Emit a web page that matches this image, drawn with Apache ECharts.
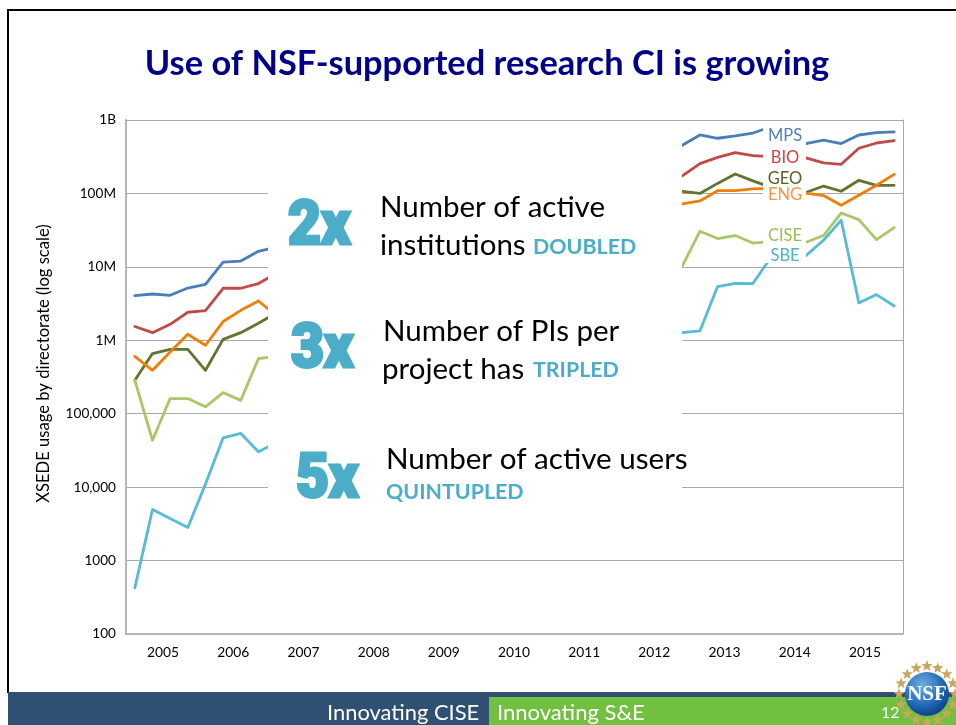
<!DOCTYPE html>
<html><head><meta charset="utf-8">
<style>html,body{margin:0;padding:0;background:#fff}#c{width:956px;height:725px}</style>
<script src="https://cdn.jsdelivr.net/npm/echarts@6/dist/echarts.min.js"></script>
</head><body><div id="c"></div>
<script>
const _ = null;
const years = ['2005','2006','2007','2008','2009','2010','2011','2012','2013','2014','2015'];
const quarters = ['05Q1','05Q2','05Q3','05Q4','06Q1','06Q2','06Q3','06Q4','07Q1','07Q2','07Q3','07Q4','08Q1','08Q2','08Q3','08Q4','09Q1','09Q2','09Q3','09Q4','10Q1','10Q2','10Q3','10Q4','11Q1','11Q2','11Q3','11Q4','12Q1','12Q2','12Q3','12Q4','13Q1','13Q2','13Q3','13Q4','14Q1','14Q2','14Q3','14Q4','15Q1','15Q2','15Q3','15Q4'];
const tickLabels = {100:'100',1000:'1000',10000:'10,000',100000:'100,000',1000000:'1M',10000000:'10M',100000000:'100M',1000000000:'1B'};
const MPS  = [4.06e6,4.27e6,4.10e6,5.15e6,5.79e6,11.6e6,12.0e6,16.3e6,18.5e6,_,_,_,_,_,_,_,_,_,_,_,_,_,_,_,_,_,_,_,_,_,_,453e6,625e6,564e6,606e6,665e6,804e6,_,477e6,530e6,477e6,625e6,674e6,687e6];
const BIO  = [1.54e6,1.27e6,1.65e6,2.41e6,2.54e6,5.11e6,5.11e6,5.92e6,8.1e6,_,_,_,_,_,_,_,_,_,_,_,_,_,_,_,_,_,_,_,_,_,_,173e6,255e6,310e6,360e6,327e6,318e6,_,304e6,260e6,249e6,412e6,486e6,524e6];
const GEO  = [0.285e6,0.659e6,0.754e6,0.754e6,0.39e6,1.03e6,1.27e6,1.71e6,2.35e6,_,_,_,_,_,_,_,_,_,_,_,_,_,_,_,_,_,_,_,_,_,_,107e6,100e6,137e6,184e6,148e6,122e6,_,103e6,126e6,107e6,151e6,129e6,129e6];
const ENG  = [0.605e6,0.39e6,0.693e6,1.21e6,0.855e6,1.80e6,2.56e6,3.43e6,2.19e6,_,_,_,_,_,_,_,_,_,_,_,_,_,_,_,_,_,_,_,_,_,_,71.8e6,78.9e6,109e6,109e6,115e6,117e6,_,101e6,93.5e6,68.9e6,94.4e6,129e6,182e6];
const CISE = [0.285e6,0.0435e6,0.161e6,0.161e6,0.124e6,0.194e6,0.152e6,0.563e6,0.605e6,_,_,_,_,_,_,_,_,_,_,_,_,_,_,_,_,_,_,_,_,_,_,10.2e6,30.5e6,24.3e6,26.7e6,21.1e6,22.3e6,_,21.6e6,26.7e6,54.2e6,44.0e6,23.5e6,34.3e6];
const SBE  = [425,4970,3750,2825,11000,46900,53900,30300,40100,_,_,_,_,_,_,_,_,_,_,_,_,_,_,_,_,_,_,_,_,_,_,1.27e6,1.34e6,5.39e6,5.97e6,5.92e6,13.2e6,_,14.2e6,23.0e6,43.1e6,3.22e6,4.19e6,2.93e6];

const seriesDefs = [
  ['MPS',MPS,'#4a7ebb','#4f81bd',136],
  ['BIO',BIO,'#be4b48','#d43f3f',158],
  ['GEO',GEO,'#5f7530','#4f6228',179],
  ['ENG',ENG,'#f07f09','#f79646',195],
  ['CISE',CISE,'#a9c766','#9bbb59',236],
  ['SBE',SBE,'#56bcd6','#4bb5c1',256]
];
const BODY = 'Lato, "Open Sans", sans-serif';
const TEAL = '#4cadc8';
function txt(x,y,text,size,color,opts){
  opts = opts||{};
  return {type:'text',z:opts.z||110,x:x,y:y,scaleX:opts.sx||1,scaleY:opts.sy||1,rotation:opts.rot||0,silent:true,
    style:{x:0,y:0,text:text,fontFamily:opts.font||BODY,fontSize:size,fontWeight:opts.weight||'normal',fill:color,
      align:opts.align||'left',verticalAlign:'middle',stroke:opts.stroke||null,lineWidth:opts.lw||0}};
}
function rect(x,y,w,h,fill,z){return {type:'rect',z:z||100,silent:true,shape:{x:x,y:y,width:w,height:h},style:{fill:fill}};}
function star(cx,cy,r){
  const pts=[];
  for(let i=0;i<10;i++){const a=-Math.PI/2+i*Math.PI/5;const q=i%2?r*0.42:r;pts.push([cx+q*Math.cos(a),cy+q*Math.sin(a)]);}
  return {type:'polygon',z:140,silent:true,shape:{points:pts},style:{fill:'#c9a65a'}};
}
const g=[];
g.push(rect(268,125,414,385,'#fff'));
g.push(rect(763,124,43,139,'#fff'));
seriesDefs.forEach(d=>g.push(txt(785,d[4],d[0],16.5,d[3],{align:'center'})));
g.push(txt(44,363.5,'XSEDE usage by directorate (log scale)',16.6,'#000',{align:'center',rot:Math.PI/2}));
// slide frame and footer
g.push(rect(7,9,949,2,'#000',130));
g.push(rect(7,9,2,684,'#000',130));
g.push(rect(8,692,948,33,'#2f5072',130));
g.push(rect(489,697,467,28,'#72c040',131));
g.push(txt(327,713,'Innovating CISE',21.9,'#fff',{z:135}));
g.push(txt(497,713,'Innovating S&E',22,'#fff',{z:135}));
g.push(txt(881,713,'12',16,'#fff',{z:135}));
// callouts
const BIG={font:'Roboto, sans-serif',weight:900,sx:0.92,stroke:TEAL,lw:3};
g.push(txt(288,228,'2x',62,TEAL,BIG));
g.push(txt(291,351,'3x',62,TEAL,BIG));
g.push(txt(296,481,'5x',62,TEAL,BIG));
g.push(txt(380,207.5,'Number of active',29.5,'#000'));
g.push(txt(380,245.5,'institutions',29.5,'#000'));
g.push(txt(533,247,'DOUBLED',21.4,TEAL,{weight:'bold'}));
g.push(txt(383,331.5,'Number of PIs per',29.5,'#000'));
g.push(txt(382,369.5,'project has',29.5,'#000'));
g.push(txt(533,370,'TRIPLED',21.4,TEAL,{weight:'bold'}));
g.push(txt(386,459.5,'Number of active users',29.6,'#000'));
g.push(txt(386,492.5,'QUINTUPLED',21.4,TEAL,{weight:'bold'}));
// NSF seal
const cx=927,cy=694;
for(let i=0;i<16;i++){const a=i*Math.PI/8;g.push(star(cx+28*Math.cos(a),cy+28*Math.sin(a),6));}
g.push({type:'circle',z:141,silent:true,shape:{cx:cx,cy:cy,r:22},style:{fill:new echarts.graphic.RadialGradient(0.4,0.3,0.8,[{offset:0,color:'#6fb0e0'},{offset:0.6,color:'#1e66b4'},{offset:1,color:'#0b2f78'}])}});
g.push(txt(cx,cy+1,'NSF',21,'#fff',{align:'center',font:'"Liberation Serif",serif',weight:'bold',z:142}));

const chart=echarts.init(document.getElementById('c'),null,{renderer:'canvas'});
chart.setOption({
  animation:false,
  backgroundColor:'#fff',
  title:{text:'Use of NSF-supported research CI is growing',left:482,top:42,textAlign:'center',
    textStyle:{fontFamily:BODY,fontWeight:'bold',fontSize:34.4,color:'#00008b'}},
  grid:[
    {left:126,right:53,top:120,bottom:91,show:false},
    {left:128,width:772,top:120,bottom:91,show:false}
  ],
  xAxis:[
    {type:'category',gridIndex:0,data:quarters,boundaryGap:true,
      axisLine:{show:true,lineStyle:{color:'#b5b5b5',width:2}},axisTick:{show:false},axisLabel:{show:false},splitLine:{show:false}},
    {type:'category',gridIndex:1,data:years,boundaryGap:true,position:'bottom',
      axisLine:{show:false},axisTick:{show:false},splitLine:{show:false},
      axisLabel:{show:true,interval:0,margin:12,fontFamily:BODY,fontSize:13.8,color:'#000'}},
    {type:'category',gridIndex:0,position:'top',data:quarters,
      axisLine:{show:true,lineStyle:{color:'#a6a6a6',width:1}},axisTick:{show:false},axisLabel:{show:false}}
  ],
  yAxis:[
    {type:'log',gridIndex:0,logBase:10,min:100,max:1e9,
      axisLine:{show:true,lineStyle:{color:'#b5b5b5',width:2}},axisTick:{show:false},
      axisLabel:{margin:10,padding:[4,0,0,0],fontFamily:BODY,fontSize:13.6,color:'#000',formatter:v=>tickLabels[Math.round(v)]||''},
      splitLine:{show:true,lineStyle:{color:'#a9a9a9',width:1}}},
    {type:'log',gridIndex:1,logBase:10,min:100,max:1e9,show:false},
    {type:'log',gridIndex:0,logBase:10,min:100,max:1e9,position:'right',
      axisLine:{show:true,lineStyle:{color:'#a6a6a6',width:1}},axisTick:{show:false},axisLabel:{show:false},splitLine:{show:false}}
  ],
  series:seriesDefs.map(d=>({name:d[0],type:'line',xAxisIndex:0,yAxisIndex:0,data:d[1],showSymbol:false,silent:true,connectNulls:false,
    lineStyle:{color:d[2],width:2.8,cap:'round',join:'round'},z:5})),
  graphic:{elements:g}
});
</script></body></html>
